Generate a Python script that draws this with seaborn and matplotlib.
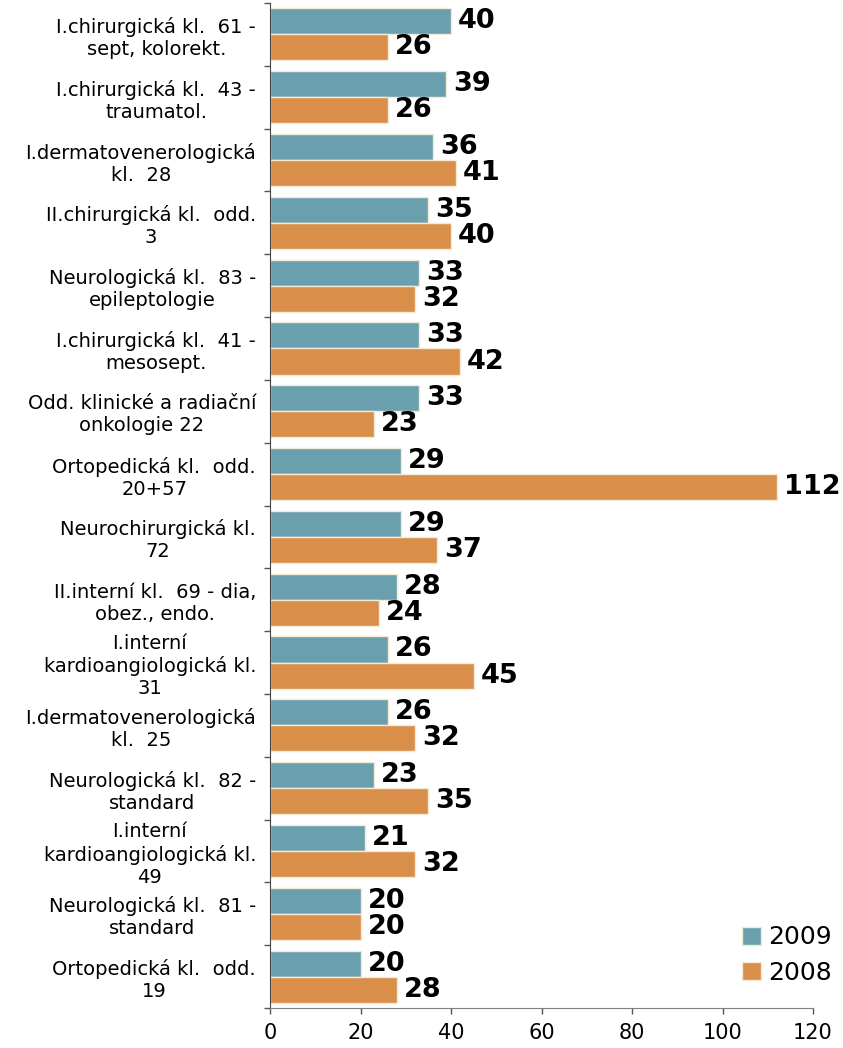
import matplotlib
matplotlib.use("Agg")
import matplotlib.pyplot as plt
import pandas as pd
import seaborn as sns

# department names, top to bottom
departments = [
    "I.chirurgická kl.  61 -\nsept, kolorekt.",
    "I.chirurgická kl.  43 -\ntraumatol.",
    "I.dermatovenerologická\nkl.  28",
    "II.chirurgická kl.  odd.\n3",
    "Neurologická kl.  83 -\nepileptologie",
    "I.chirurgická kl.  41 -\nmesosept.",
    "Odd. klinické a radiační\nonkologie 22",
    "Ortopedická kl.  odd.\n20+57",
    "Neurochirurgická kl.\n72",
    "II.interní kl.  69 - dia,\nobez., endo.",
    "I.interní\nkardioangiologická kl.\n31",
    "I.dermatovenerologická\nkl.  25",
    "Neurologická kl.  82 -\nstandard",
    "I.interní\nkardioangiologická kl.\n49",
    "Neurologická kl.  81 -\nstandard",
    "Ortopedická kl.  odd.\n19",
]
values_2009 = [40, 39, 36, 35, 33, 33, 33, 29, 29, 28, 26, 26, 23, 21, 20, 20]
values_2008 = [26, 26, 41, 40, 32, 42, 23, 112, 37, 24, 45, 32, 35, 32, 20, 28]
years = ["2009", "2008"]
x_ticks = [0, 20, 40, 60, 80, 100, 120]

df = pd.DataFrame({
    "dept": departments * 2,
    "value": values_2009 + values_2008,
    "year": ["2009"] * len(departments) + ["2008"] * len(departments),
})

sns.set_style("white")
plt.rcParams["font.family"] = ["DejaVu Sans"]
plt.rcParams["text.color"] = "black"

fig = plt.figure(figsize=(8.43, 10.48), dpi=100)
ax = fig.add_axes([270 / 843, 40 / 1048, 543 / 843, 1005 / 1048])

palette = {"2009": "#6a9fad", "2008": "#d98f4a"}
sns.barplot(
    data=df, y="dept", x="value", hue="year", hue_order=years,
    palette=palette, orient="h", width=0.83, saturation=1,
    edgecolor="#f3ead8", linewidth=1, ax=ax,
)

for cont in ax.containers:
    ax.bar_label(cont, fmt="%d", padding=5, fontsize=19.5, fontweight="bold", color="black")

ax.set_xlim(0, 120)
ax.set_xticks(x_ticks)
ax.set_ylim(len(departments) - 0.5, -0.5)
ax.set_xlabel("")
ax.set_ylabel("")

# tick marks sit between categories
ax.set_yticks([i - 0.5 for i in range(len(departments) + 1)], minor=True)
ax.tick_params(axis="y", which="major", length=0, pad=10, labelsize=14, labelcolor="black")
ax.tick_params(axis="y", which="minor", length=4, width=1, direction="out", left=True, color="#555555")
ax.tick_params(axis="x", length=4.5, width=1, direction="out", bottom=True, pad=6,
               labelsize=15, labelcolor="black", color="#555555")
for lbl in ax.get_yticklabels():
    lbl.set_multialignment("center")

for s in ["top", "right"]:
    ax.spines[s].set_visible(False)
ax.spines["left"].set_color("#444444")
ax.spines["bottom"].set_color("#808080")

ax.legend(
    loc="center left", bbox_to_anchor=(742 / 843, 1 - 955 / 1048),
    bbox_transform=fig.transFigure, frameon=False, fontsize=18, borderpad=0,
    borderaxespad=0, handlelength=0.75, handleheight=0.75, handletextpad=0.3,
    labelspacing=0.45,
)

fig.savefig("out.png", dpi=100)
